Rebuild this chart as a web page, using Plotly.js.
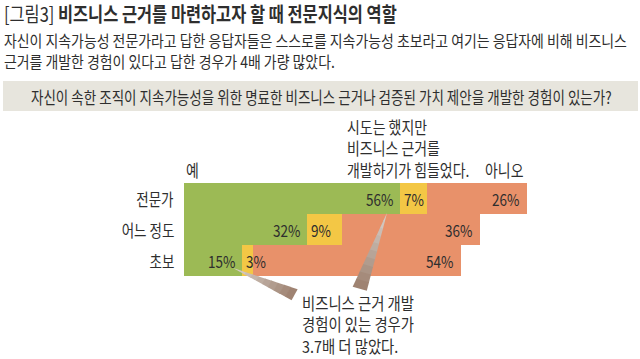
<!DOCTYPE html>
<html><head><meta charset="utf-8">
<script src="https://cdn.plot.ly/plotly-3.0.1.min.js"></script>
<style>html,body{margin:0;padding:0;background:#fff}#chart{width:640px;height:359px}</style>
</head><body><div id="chart"></div>
<script>
// ---- data ----
const categories = ['전문가', '어느 정도', '초보'];
const yesValues = [56, 32, 15];
const triedValues = [7, 9, 3];
const noValues = [26, 36, 54];
const seriesNames = ['예', '시도는 했지만 비즈니스 근거를 개발하기가 힘들었다.', '아니오'];
const titleLabel = '[그림3]';
const titleText = '비즈니스 근거를 마련하고자 할 때 전문지식의 역할';
const subtitleLines = ['자신이 지속가능성 전문가라고 답한 응답자들은 스스로를 지속가능성 초보라고 여기는 응답자에 비해 비즈니스',
                       '근거를 개발한 경험이 있다고 답한 경우가 4배 가량 많았다.'];
const questionText = '자신이 속한 조직이 지속가능성을 위한 명료한 비즈니스 근거나 검증된 가치 제안을 개발한 경험이 있는가?';
const yesHeader = '예';
const triedHeaderLines = ['시도는 했지만', '비즈니스 근거를', '개발하기가 힘들었다.'];
const noHeader = '아니오';
const calloutLines = ['비즈니스 근거 개발', '경험이 있는 경우가', '3.7배 더 많았다.'];

// ---- styles ----
const FONT = 'Noto Sans CJK KR';
const TXT = '#2e2e2e';
const colors = ['#9cba55', '#f3c745', '#e8916a'];
const W = 640, H = 359, L = 184, R = 71, T = 183, B = 83;
const X = px => (px - L) / (W - L - R);
const Y = py => (H - B - py) / (H - T - B);

const traces = [yesValues, triedValues, noValues].map((vals, i) => ({
  type: 'bar', orientation: 'h', name: seriesNames[i],
  y: categories, x: vals,
  marker: {color: colors[i], line: {width: 0}},
  hoverinfo: 'skip', textposition: 'none'
}));

const annotations = [];
const squeeze = [];   // horizontal condensing factor per annotation
function ann(text, px, py, xanchor, size, k) {
  annotations.push({
    text: text, xref: 'paper', yref: 'paper', x: X(px), y: Y(py),
    xanchor: xanchor, yanchor: 'middle', align: xanchor === 'center' ? 'center' : xanchor,
    showarrow: false, font: {family: FONT, size: size, color: TXT}
  });
  squeeze.push(k);
}
ann(titleLabel + ' <b>' + titleText + '</b>', 2, 13, 'left', 20, 0.82);
ann(subtitleLines.join('<br>'), 2, 50, 'left', 16, 0.87);
ann(questionText, 321, 97, 'center', 16.5, 0.82);
ann(yesHeader, 184, 169, 'left', 17, 0.82);
ann(triedHeaderLines.join('<br>'), 345, 148.5, 'left', 16.5, 0.845);
ann(noHeader, 483, 169, 'left', 17, 0.82);
ann(calloutLines.join('<br>'), 300, 324.5, 'left', 16.5, 0.87);

categories.forEach((c, i) => {
  const base = {xref: 'x', yref: 'y', y: c, yanchor: 'middle', showarrow: false,
                font: {family: FONT, size: 16.5, color: TXT}};
  annotations.push(Object.assign({}, base, {text: c, x: 0, xanchor: 'right', align: 'right', xshift: -8}));
  annotations.push(Object.assign({}, base, {text: yesValues[i] + '%', x: yesValues[i], xanchor: 'right', align: 'right', xshift: -4}));
  annotations.push(Object.assign({}, base, {text: triedValues[i] + '%', x: yesValues[i], xanchor: 'left', align: 'left', xshift: 2}));
  annotations.push(Object.assign({}, base, {text: noValues[i] + '%', x: yesValues[i] + triedValues[i] + noValues[i], xanchor: 'right', align: 'right', xshift: -5}));
  squeeze.push(0.82, 0.82, 0.82, 0.82);
});

const shapes = [{
  type: 'rect', xref: 'paper', yref: 'paper', x0: X(3), x1: X(638), y0: Y(111), y1: Y(81),
  fillcolor: '#e7e5dd', line: {width: 0}, layer: 'below'
}];
function mix(a, b, t) {
  const pa = a.match(/\w\w/g).map(h => parseInt(h, 16)), pb = b.match(/\w\w/g).map(h => parseInt(h, 16));
  return 'rgb(' + pa.map((v, i) => Math.round(v + (pb[i] - v) * t)).join(',') + ')';
}
function wedge(tip, a, b, c0, c1, n) {
  const pt = (p, t) => [tip[0] + (p[0] - tip[0]) * t, tip[1] + (p[1] - tip[1]) * t];
  const f = p => X(p[0]).toFixed(5) + ',' + Y(p[1]).toFixed(5);
  for (let i = 0; i < n; i++) {
    const t0 = i / n, t1 = (i + 1) / n;
    const a0 = pt(a, t0), a1 = pt(a, t1 + 0.01), b0 = pt(b, t0), b1 = pt(b, t1 + 0.01);
    shapes.push({type: 'path', xref: 'paper', yref: 'paper', layer: 'above',
      path: 'M' + f(a0) + 'L' + f(a1) + 'L' + f(b1) + 'L' + f(b0) + 'Z',
      fillcolor: mix(c0, c1, (t0 + t1) / 2), line: {width: 0}});
  }
}
wedge([233, 268], [291, 300], [297, 289], 'd9d2cc', '9c7f6d', 10);
wedge([387, 213], [353, 286], [367, 290], 'd9d2cc', '9c7f6d', 10);

const layout = {
  width: W, height: H, margin: {l: L, r: R, t: T, b: B, pad: 0},
  paper_bgcolor: '#ffffff', plot_bgcolor: '#ffffff',
  barmode: 'stack', bargap: 0, showlegend: false,
  xaxis: {range: [0, 100], visible: false, fixedrange: true},
  yaxis: {type: 'category', categoryorder: 'array', categoryarray: categories,
          range: [2.5, -0.5], showticklabels: false, showgrid: false, zeroline: false,
          showline: false, ticks: '', fixedrange: true},
  annotations: annotations, shapes: shapes,
  font: {family: FONT, color: TXT}
};

function condense(gd) {
  gd.querySelectorAll('g.annotation').forEach(g => {
    const idx = +g.getAttribute('data-index');
    const k = squeeze[idx] || 0.82;
    const t = g.querySelector('.annotation-text');
    if (!t) return;
    const a = t.getAttribute('text-anchor') || 'middle';
    const o = a === 'end' ? '100%' : (a === 'start' ? '0%' : '50%');
    t.style.transformBox = 'fill-box';
    t.style.transformOrigin = o + ' 50%';
    t.style.transform = 'scaleX(' + k + ')';
  });
}
Plotly.newPlot('chart', traces, layout, {displayModeBar: false, staticPlot: true}).then(gd => {
  condense(gd);
  gd.on && gd.on('plotly_afterplot', () => condense(gd));
});
</script>
</body></html>
